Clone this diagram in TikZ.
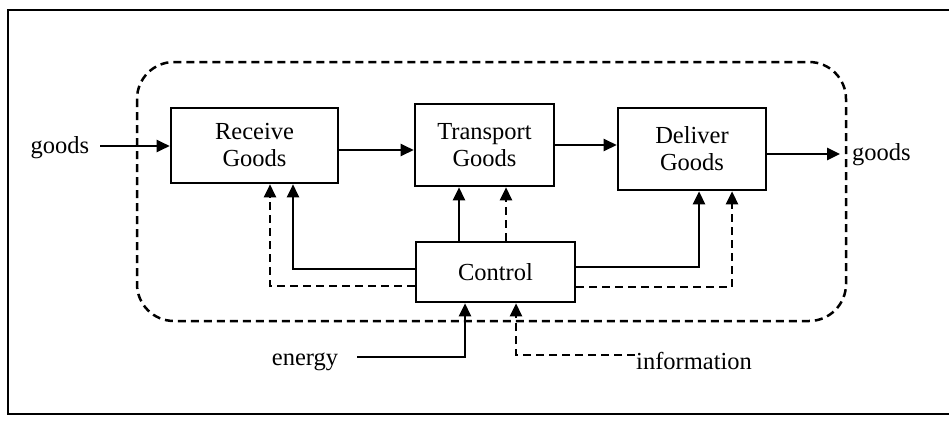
\documentclass[tikz,border=0pt]{standalone}
\usepackage{fontspec}
\setmainfont{Liberation Serif}
\usetikzlibrary{arrows.meta,calc}
\begin{document}
\begin{tikzpicture}[x=1pt,y=-1pt,
  box/.style={draw,line width=2.6pt,rectangle,inner sep=0pt,align=center,
    font=\fontsize{24.5}{27}\selectfont},
  lbl/.style={inner sep=0pt,font=\fontsize{24.5}{27}\selectfont,anchor=base},
  conn/.style={line width=2.5pt,-{Triangle[length=13pt,width=12pt]}},
  dconn/.style={conn,dash pattern=on 8pt off 5pt},
  frame/.style={line width=2.6pt}]
\clip (0,0) rectangle (949,420);
% outer frame (right edge beyond the picture)
\draw[frame] (960,10) -- (8,10) -- (8,414) -- (960,414);
% system boundary
\draw[line width=2.5pt,dash pattern=on 8pt off 5pt,rounded corners=37pt]
  (137,62) rectangle (846,321);
% boxes
\node[box,minimum width=167pt,minimum height=75pt] (recv) at (254.5,145.5) {Receive\\Goods};
\node[box,minimum width=139pt,minimum height=82pt] (trans) at (484.5,145) {Transport\\Goods};
\node[box,minimum width=148pt,minimum height=82pt] (deliv) at (692,149) {Deliver\\Goods};
\node[box,minimum width=159pt,minimum height=60pt] (ctrl) at (495.5,272) {Control};
% labels
\node[lbl] (gin) at (60,153) {goods};
\node[lbl,anchor=base west] (gout) at (852,160) {goods};
\node[lbl] (elab) at (305,365) {energy};
\node[lbl,anchor=base west] (ilab) at (636,369) {information};
% coordinates
\coordinate (gstart) at (100,146);
\coordinate (rt) at (338,150);
\coordinate (oend) at (840,154);
\coordinate (ls) at (293,269);
\coordinate (ld) at (270,286);
\coordinate (us) at (459,220);
\coordinate (ud) at (506,220);
\coordinate (rs) at (699,267);
\coordinate (rd) at (732,287);
\coordinate (estart) at (357,357);
\coordinate (en) at (465,357);
\coordinate (istart) at (635,355);
\coordinate (id) at (516,355);
% flow of goods
\draw[conn] (gstart) -- (gstart -| recv.west);
\draw[conn] (recv.east |- rt) -- (rt -| trans.west);
\draw[conn] (trans.east) -- (trans.east -| deliv.west);
\draw[conn] (deliv.east |- oend) -- (oend);
% control links
\draw[conn] (ctrl.west |- ls) -- (ls) -- (recv.south -| ls);
\draw[dconn] (ctrl.west |- ld) -- (ld) -- (recv.south -| ld);
\draw[conn] (ctrl.north -| us) -- (trans.south -| us);
\draw[dconn] (ctrl.north -| ud) -- (trans.south -| ud);
\draw[conn] (ctrl.east |- rs) -- (rs) -- (deliv.south -| rs);
\draw[dconn] (ctrl.east |- rd) -- (rd) -- (deliv.south -| rd);
% inputs to control
\draw[conn] (estart) -- (en) -- (ctrl.south -| en);
\draw[dconn] (istart) -- (id) -- (ctrl.south -| id);
\end{tikzpicture}
\end{document}
